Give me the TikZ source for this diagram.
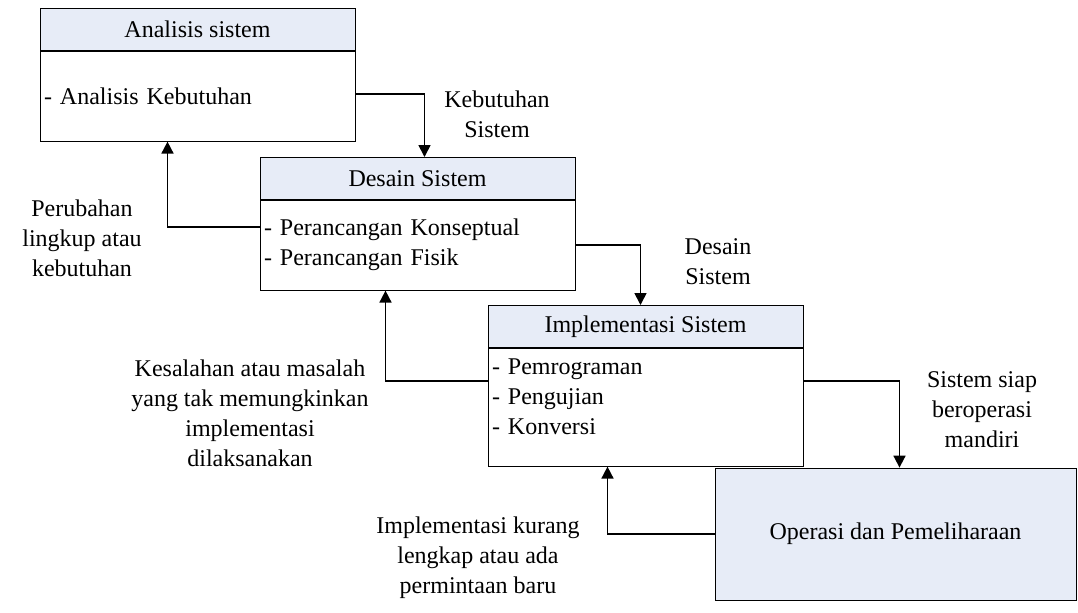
\documentclass[tikz,border=0pt]{standalone}
\usepackage{fontspec}
\setmainfont{Liberation Serif}
\usepackage{tikz}
\usetikzlibrary{arrows.meta,positioning,calc}
\definecolor{headblue}{RGB}{231,236,247}
\newcommand{\sysfont}{\fontsize{12}{15}\selectfont}

\begin{document}
\begin{tikzpicture}[x=0.5pt, y=-0.5pt,
  head/.style={draw, fill=headblue, minimum width=157.5pt,
    minimum height=21pt, inner sep=0pt, anchor=north, font=\sysfont},
  body/.style={draw, fill=white, text width=153.5pt, inner xsep=2pt,
    align=left, font=\sysfont},
  arr/.style={-{Triangle[length=6pt, width=6pt]}, line width=0.85pt},
  lbl/.style={align=center, font=\sysfont},
]
  \useasboundingbox (0,0) rectangle (1078,612);

  % phases
  \node[head] (h1) at (197.5,8) {Analisis sistem};
  \node[body, minimum height=45pt, below=0pt of h1] (b1)
    {- Analisis Kebutuhan};
  \node[head] (h2) at (417.5,157) {Desain Sistem};
  \node[body, minimum height=45pt, below=0pt of h2] (b2)
    {- Perancangan Konseptual\\- Perancangan Fisik};
  \node[head] (h3) at (645.5,305) {Implementasi Sistem};
  \node[body, minimum height=59pt, below=0pt of h3] (b3)
    {- Pemrograman\\- Pengujian\\- Konversi\\[-4pt]\mbox{}};
  \node[draw, fill=headblue, minimum width=180.5pt, minimum height=66pt,
    font=\sysfont] (ops) at (895.5,534) {Operasi dan Pemeliharaan};

  % forward flow
  \draw[arr] ([yshift=1pt]b1.east) -| ([xshift=3.5pt]h2.north);
  \draw[arr] (b2.east) -| ([xshift=-2.5pt]h3.north);
  \draw[arr] ([yshift=13pt]b3.east) -| ([xshift=2pt]ops.north);

  % feedback
  \draw[arr] ([yshift=9pt]b2.west) -| ([xshift=-15pt]b1.south);
  \draw[arr] ([yshift=13pt]b3.west) -| ([xshift=-16pt]b2.south);
  \draw[arr] (ops.west) -| ([xshift=-19pt]b3.south);

  \node[lbl] (kebutuhan) at (497,114) {Kebutuhan\\Sistem};
  \node[lbl] (desain) at (718,262) {Desain\\Sistem};
  \node[lbl] (siap) at (982,410) {Sistem siap\\beroperasi\\mandiri};
  \node[lbl] (perubahan) at (82,238) {Perubahan\\lingkup atau\\kebutuhan};
  \node[lbl] (kesalahan) at (250,413)
    {Kesalahan atau masalah\\yang tak memungkinkan\\implementasi\\dilaksanakan};
  \node[lbl] (kurang) at (478,558)
    {Implementasi kurang\\lengkap atau ada\\permintaan baru};
\end{tikzpicture}
\end{document}
